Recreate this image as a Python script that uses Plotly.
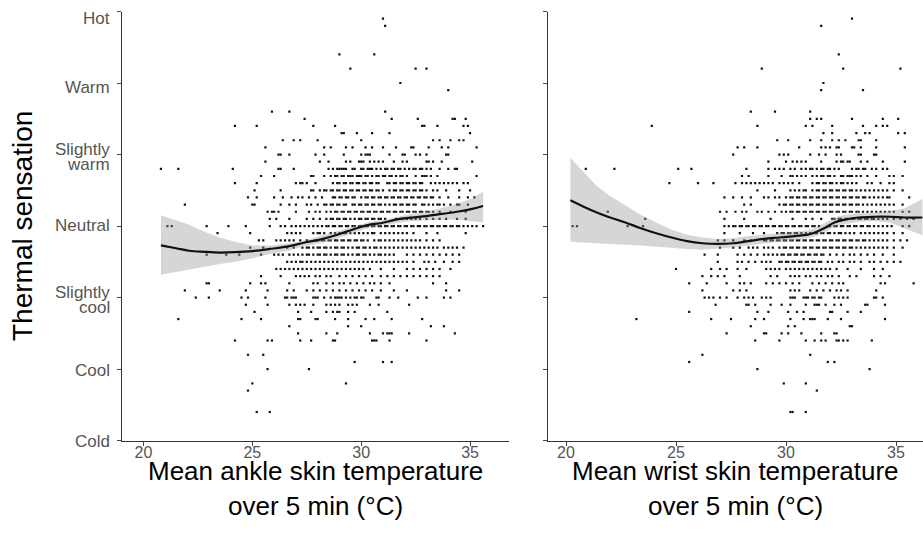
import plotly.graph_objects as go

# thermal sensation scale (-3 .. 3)
sensation_vals = [-3, -2, -1, 0, 1, 2, 3]
sensation_labels = ["Cold", "Cool", "Slightly<br>cool", "Neutral", "Slightly<br>warm", "Warm", "Hot"]
temp_ticks = [20, 25, 30, 35]

# --- ankle panel : votes per sensation level ---
ankle_levels = [2.9, 2.8, 2.4, 2.2, 2.0, 1.9, 1.6, 1.5, 1.4, 1.3, 1.2, 1.1, 1.0, 0.9, 0.8, 0.7, 0.6, 0.5, 0.4,
                0.3, 0.2, 0.1, 0.0, -0.1, -0.2, -0.3, -0.4, -0.5, -0.6, -0.7, -0.8, -0.9, -1.0, -1.1, -1.2,
                -1.3, -1.4, -1.5, -1.6, -1.8, -1.9, -2.0, -2.2, -2.3, -2.6]
ankle_temps = [
    [31.0], [31.1], [29.0, 30.6], [29.5, 32.5, 33.0], [31.8], [34.0],
    [25.9, 26.7, 31.1],
    [27.4, 31.4, 32.6, 34.2, 34.3, 34.8],
    [24.2, 25.2, 27.8, 28.8, 32.8, 32.9, 33.5, 34.7, 34.9],
    [29.1, 29.2, 29.8, 30.5, 31.3, 35.0],
    [26.4, 26.9, 27.2, 28.0, 30.0, 33.3, 33.6, 34.1, 34.5, 34.7],
    [25.6, 28.3, 28.6, 29.3, 29.6, 30.2, 30.5, 31.0, 31.6, 32.3, 32.4, 33.1, 33.7, 34.0, 35.3],
    [26.2, 26.3, 26.7, 27.9, 28.3, 29.2, 30.0, 30.2, 30.3, 30.4, 31.3, 31.9, 32.0, 32.5, 32.7, 33.0, 33.9, 34.0],
    [25.6, 28.1, 28.5, 29.3, 29.5, 29.9, 30.0, 30.1, 30.4, 30.6, 30.8, 31.0, 31.5, 31.9, 32.1, 33.0, 33.1,
     33.3, 33.7, 35.1],
    [20.8, 21.6, 24.1, 26.2, 26.3, 26.9, 28.5, 28.7, 28.9, 29.0, 29.1, 29.2, 29.3, 29.6, 29.7, 30.0, 30.1,
     30.3, 30.4, 30.5, 30.7, 30.9, 31.1, 31.2, 31.4, 31.5, 31.7, 31.8, 32.0, 32.2, 32.4, 32.5, 32.7, 32.8,
     33.0, 33.2, 33.6, 34.0, 34.3, 34.4],
    [25.4, 26.0, 27.7, 27.8, 28.3, 28.6, 28.8, 28.9, 29.1, 29.2, 29.4, 29.5, 29.6, 29.8, 29.9, 30.0, 30.2,
     30.3, 30.5, 30.7, 30.8, 31.0, 31.1, 31.3, 31.4, 31.6, 31.8, 31.9, 32.1, 32.5, 32.8, 32.9, 33.0, 33.2,
     33.5, 35.3],
    [24.2, 25.2, 27.0, 27.2, 27.3, 27.5, 27.9, 28.7, 28.9, 29.0, 29.2, 29.3, 29.5, 29.6, 29.8, 29.9, 30.1,
     30.2, 30.4, 30.5, 30.7, 30.8, 31.2, 31.3, 31.5, 31.6, 31.8, 31.9, 32.1, 32.2, 32.4, 32.5, 32.7, 32.8,
     33.2, 33.4, 33.6, 33.8, 34.0, 34.2, 34.4, 34.7, 34.9],
    [25.1, 26.3, 27.7, 27.8, 28.1, 28.3, 28.4, 28.6, 28.7, 28.9, 29.0, 29.2, 29.3, 29.5, 29.6, 29.8, 29.9,
     30.1, 30.2, 30.4, 30.5, 30.7, 30.8, 31.0, 31.3, 31.5, 31.6, 31.8, 31.9, 32.1, 32.2, 32.4, 32.5, 32.7,
     32.8, 33.0, 33.3, 33.5, 33.9, 34.5, 35.0],
    [24.8, 25.2, 26.0, 26.4, 26.8, 27.1, 27.3, 27.6, 27.9, 28.2, 28.7, 28.8, 29.0, 29.1, 29.3, 29.4, 29.6,
     29.7, 30.0, 30.2, 30.3, 30.5, 30.6, 30.8, 30.9, 31.1, 31.2, 31.4, 31.5, 31.7, 31.8, 32.0, 32.1, 32.3,
     32.4, 32.6, 32.7, 32.9, 33.0, 33.2, 33.3, 33.6, 34.0, 34.5, 34.9, 35.2],
    [21.9, 25.0, 25.1, 26.3, 26.7, 27.0, 27.5, 27.7, 28.0, 28.3, 28.4, 28.6, 28.7, 28.9, 29.0, 29.2, 29.3,
     29.6, 29.7, 29.9, 30.0, 30.2, 30.3, 30.5, 30.6, 30.8, 30.9, 31.1, 31.3, 31.5, 31.6, 31.8, 31.9, 32.1,
     32.2, 32.4, 32.5, 32.8, 32.9, 33.1, 33.3, 33.5, 33.6, 33.8, 34.1, 34.4, 34.5, 34.9],
    [25.7, 25.9, 26.0, 26.2, 27.0, 27.6, 27.9, 28.1, 28.4, 28.6, 28.8, 28.9, 29.1, 29.2, 29.4, 29.5, 29.7,
     29.8, 30.0, 30.1, 30.3, 30.4, 30.6, 30.7, 30.9, 31.0, 31.2, 31.3, 31.5, 31.6, 31.8, 31.9, 32.1, 32.2,
     32.4, 32.5, 32.7, 32.8, 33.0, 33.1, 33.3, 33.6, 34.1, 34.8],
    [25.8, 26.1, 26.7, 27.5, 27.8, 28.1, 28.4, 28.6, 28.7, 28.9, 29.0, 29.2, 29.3, 29.5, 29.7, 29.9, 30.0,
     30.2, 30.3, 30.5, 30.6, 30.8, 30.9, 31.1, 31.6, 31.8, 31.9, 32.1, 32.3, 32.5, 32.7, 33.0, 33.3, 33.6,
     33.9, 34.4, 34.8],
    [21.1, 21.3, 22.9, 23.9, 24.7, 25.8, 26.3, 26.5, 26.8, 27.0, 27.2, 27.4, 27.6, 27.8, 28.0, 28.2, 28.4,
     28.5, 28.7, 28.8, 29.0, 29.1, 29.3, 29.4, 29.6, 29.7, 29.9, 30.0, 30.2, 30.3, 30.5, 30.6, 30.8, 30.9,
     31.1, 31.2, 31.4, 31.5, 31.7, 31.8, 32.0, 32.1, 32.3, 32.4, 32.6, 32.7, 32.9, 33.0, 33.2, 33.3, 33.5,
     33.6, 33.8, 33.9, 34.1, 34.2, 34.4, 34.5, 34.7, 34.9, 35.1, 35.3, 35.6],
    [23.4, 24.9, 26.6, 26.8, 27.0, 27.2, 27.8, 28.0, 28.1, 28.3, 28.6, 28.8, 29.0, 29.2, 29.3, 29.5, 29.7,
     29.9, 30.1, 30.3, 30.5, 30.6, 30.9, 31.1, 31.3, 31.5, 31.7, 31.9, 32.1, 32.4, 33.0, 33.5, 34.8],
    [25.3, 25.5, 26.1, 26.3, 26.5, 26.7, 26.9, 27.2, 27.5, 27.9, 28.0, 28.2, 28.3, 28.5, 28.6, 28.8, 28.9,
     29.1, 29.2, 29.4, 29.5, 29.7, 29.8, 30.0, 30.1, 30.3, 30.6, 30.8, 30.9, 31.1, 31.3, 31.5, 31.7, 31.9,
     32.1, 32.3, 32.5, 32.7, 33.0, 33.3, 33.6],
    [24.9, 25.5, 26.6, 26.9, 27.3, 27.5, 27.6, 27.8, 28.0, 28.1, 28.3, 28.4, 28.6, 28.8, 28.9, 29.1, 29.2,
     29.4, 29.6, 29.8, 29.9, 30.1, 30.2, 30.4, 30.6, 30.7, 30.9, 31.1, 31.3, 31.5, 31.7, 31.9, 32.1, 32.3,
     32.5, 32.7, 32.9, 33.1, 33.3, 33.5, 33.8, 34.0, 34.2, 34.4, 34.7],
    [22.9, 23.8, 24.4, 25.4, 26.0, 26.2, 26.4, 26.7, 26.9, 27.1, 27.3, 27.5, 27.6, 27.8, 28.0, 28.1, 28.3,
     28.4, 28.6, 28.8, 28.9, 29.1, 29.2, 29.4, 29.6, 29.8, 29.9, 30.1, 30.2, 30.4, 30.6, 30.8, 30.9, 31.1,
     31.3, 31.5, 32.1, 32.4, 32.7, 33.0, 33.3, 33.6, 33.9, 34.2, 34.5],
    [26.6, 26.8, 27.0, 27.2, 27.3, 27.5, 27.7, 27.9, 28.1, 28.3, 28.5, 28.7, 28.9, 29.1, 29.3, 29.5, 29.7,
     29.9, 30.1, 30.3, 30.5, 30.7, 30.9, 31.1, 31.3, 31.5, 31.7, 31.9, 32.1, 32.4, 32.9, 33.1, 33.4, 33.8,
     34.2, 34.5],
    [26.1, 26.3, 26.5, 26.7, 26.9, 27.1, 27.3, 27.5, 27.7, 27.9, 28.1, 28.3, 28.5, 28.7, 28.9, 29.1, 29.3,
     29.5, 29.7, 29.9, 30.1, 30.4, 30.9, 31.5, 32.1, 32.4, 32.7, 33.0, 33.3, 33.6, 34.1],
    [25.4, 26.3, 27.0, 27.2, 27.4, 27.6, 27.9, 28.1, 28.4, 28.6, 29.0, 29.3, 29.6, 29.9, 30.2, 30.5, 30.9,
     31.2, 31.5, 31.8, 32.1, 32.4, 32.7, 33.0, 33.3, 33.6],
    [22.9, 23.0, 24.9, 25.4, 25.6, 26.7, 27.8, 28.0, 28.4, 28.7, 29.0, 29.2, 29.5, 29.8, 30.1, 30.4, 30.6,
     30.9, 31.3, 33.3, 33.9],
    [21.9, 23.5, 24.7, 25.7, 26.6, 26.9, 27.5, 27.8, 28.1, 28.4, 28.7, 29.0, 29.3, 29.6, 29.9, 30.2, 30.5,
     30.9, 31.5, 32.1, 33.9, 34.5],
    [22.4, 23.0, 24.5, 24.8, 25.6, 26.5, 26.6, 26.8, 26.9, 27.0, 27.8, 27.9, 28.0, 28.3, 28.6, 28.8, 28.9,
     29.0, 29.1, 29.3, 29.5, 29.7, 29.8, 30.0, 30.1, 30.7, 30.8, 31.3, 31.7, 32.6, 33.0, 33.8, 34.1],
    [24.7, 25.7, 26.7, 27.0, 27.2, 27.4, 27.8, 28.4, 28.6, 28.8, 29.0, 29.4, 29.6, 29.8, 30.4, 30.8, 32.2],
    [25.1, 27.1, 27.7, 28.4, 28.7, 28.9, 29.0, 29.4, 29.7, 31.2],
    [21.6, 24.5, 25.4, 27.1, 27.2, 27.9, 28.0, 28.8, 29.4, 30.2, 30.6, 31.4, 32.8],
    [26.7, 29.4, 30.0, 33.2, 33.8],
    [27.1, 28.4, 28.9, 30.4, 31.0, 31.2, 31.3, 31.4, 32.2, 34.3],
    [24.2, 25.7, 25.9, 27.2, 27.7, 28.7, 28.8, 30.5, 30.6, 30.7, 31.3, 33.0],
    [24.8, 25.5], [29.7, 31.0, 31.4], [25.7, 27.6], [25.0, 29.3], [24.8], [25.2, 25.8],
]

# --- wrist panel ---
wrist_levels = [2.9, 2.8, 2.4, 2.2, 2.0, 1.9, 1.6, 1.5, 1.4, 1.3, 1.2, 1.1, 1.0, 0.9, 0.8, 0.7, 0.6, 0.5, 0.4,
                0.3, 0.2, 0.1, 0.0, -0.1, -0.2, -0.3, -0.4, -0.5, -0.6, -0.7, -0.8, -0.9, -1.0, -1.1, -1.2,
                -1.3, -1.4, -1.5, -1.6, -1.8, -1.9, -2.0, -2.2, -2.3, -2.6]
wrist_temps = [
    [33.0], [31.6], [32.4], [28.9, 32.6, 35.2], [31.7], [31.6, 33.5],
    [28.4, 29.5, 31.1],
    [31.1, 31.4, 31.6, 33.0, 34.4, 35.1],
    [23.9, 28.7, 30.9, 31.2, 32.1, 33.5, 34.1, 34.4, 34.6],
    [31.7, 32.1, 33.2, 33.6, 33.8, 35.1, 35.4],
    [29.6, 30.1, 31.1, 31.6, 32.1, 32.4, 32.7, 33.3, 33.4, 34.1],
    [27.8, 28.1, 28.7, 30.6, 31.6, 31.8, 32.0, 32.3, 32.4, 33.0, 33.1, 33.4, 34.1, 35.4],
    [27.6, 29.7, 29.9, 30.1, 31.1, 31.5, 31.8, 32.3, 32.5, 33.3, 33.4, 34.0, 34.1],
    [29.2, 30.0, 30.3, 30.5, 30.7, 30.9, 31.6, 32.3, 32.5, 32.6, 32.8, 32.9, 33.4, 33.7, 34.4, 35.4],
    [20.9, 22.2, 25.1, 25.7, 28.2, 29.2, 29.5, 29.7, 29.9, 30.2, 30.4, 30.7, 30.9, 31.1, 31.2, 31.4, 31.6,
     31.7, 31.9, 32.0, 32.2, 32.4, 33.0, 33.2, 33.3, 33.5, 33.6, 33.9, 34.1, 34.4, 34.6],
    [28.0, 28.3, 29.2, 29.8, 30.2, 30.3, 30.5, 30.7, 30.9, 31.2, 31.4, 31.6, 31.7, 31.9, 32.0, 32.2, 32.5,
     32.6, 32.8, 32.9, 33.0, 33.2, 33.4, 33.7, 34.1, 34.7, 34.9, 35.3],
    [24.7, 26.0, 26.7, 27.7, 28.0, 28.2, 28.4, 28.6, 28.8, 29.0, 29.2, 29.4, 29.7, 29.9, 30.1, 30.3, 30.6,
     31.2, 31.4, 31.5, 31.7, 31.8, 32.0, 32.1, 32.3, 32.5, 32.6, 32.8, 33.0, 33.2, 33.7, 33.9, 34.3, 34.7,
     34.9],
    [28.7, 29.5, 30.2, 30.4, 30.6, 30.8, 30.9, 31.2, 31.4, 31.5, 31.7, 31.8, 32.0, 32.1, 32.3, 32.4, 32.6,
     32.7, 32.9, 33.0, 33.2, 33.4, 33.6, 33.8, 34.0, 34.2, 34.4, 34.6, 34.9, 35.3],
    [27.2, 27.6, 28.0, 28.4, 29.0, 29.2, 29.5, 29.7, 30.0, 30.2, 30.3, 30.5, 30.6, 30.8, 30.9, 31.1, 31.2,
     31.4, 31.5, 31.7, 31.8, 32.0, 32.1, 32.3, 32.4, 32.6, 32.7, 32.9, 33.0, 33.2, 33.3, 33.5, 33.6, 33.8,
     34.0, 34.2, 34.4, 34.6, 34.7, 35.6],
    [28.1, 28.4, 29.7, 29.9, 30.0, 30.2, 30.3, 30.5, 30.6, 30.8, 30.9, 31.1, 31.2, 31.4, 31.5, 31.7, 31.8,
     32.0, 32.1, 32.3, 32.4, 32.6, 32.7, 32.9, 33.0, 33.2, 33.3, 33.5, 33.7, 33.9, 34.1, 34.3, 34.5, 34.7,
     34.9, 35.3],
    [21.9, 27.0, 27.3, 27.7, 28.0, 28.2, 28.7, 28.9, 29.2, 29.5, 29.8, 30.0, 30.2, 30.3, 30.5, 30.6, 30.8,
     30.9, 31.1, 31.2, 31.4, 31.5, 31.7, 31.8, 32.0, 32.1, 32.3, 32.4, 32.6, 32.7, 32.9, 33.0, 33.2, 33.3,
     33.5, 33.7, 33.9, 34.1, 34.3, 34.5, 34.7, 34.9, 35.3, 35.6],
    [23.6, 27.2, 28.1, 29.3, 30.3, 30.9, 31.2, 31.6, 32.1, 32.2, 32.4, 32.5, 32.7, 32.8, 33.0, 33.1, 33.3,
     33.4, 33.6, 33.7, 33.9, 34.0, 34.2, 34.4, 34.6, 34.9, 35.2, 35.5, 35.8],
    [20.3, 20.5, 22.8, 23.5, 27.2, 27.4, 27.6, 27.7, 27.9, 28.0, 28.2, 28.3, 28.5, 28.6, 28.8, 28.9, 29.1,
     29.2, 29.4, 29.5, 29.7, 29.8, 30.0, 30.1, 30.3, 30.4, 30.6, 30.7, 30.9, 31.0, 31.2, 31.3, 31.5, 31.9,
     32.0, 32.2, 32.3, 32.5, 32.6, 32.8, 32.9, 33.1, 33.2, 33.4, 33.5, 33.7, 33.8, 34.0, 34.2, 34.4, 34.6,
     34.8, 35.3, 35.6],
    [27.2, 27.9, 28.5, 29.0, 29.6, 29.8, 29.9, 30.1, 30.2, 30.4, 30.5, 30.7, 30.9, 31.1, 31.3, 31.4, 31.6,
     31.7, 31.9, 32.0, 32.2, 32.4, 32.5, 32.7, 32.9, 33.1, 33.4, 33.6, 33.8, 34.0, 34.2, 34.4, 34.6, 34.9,
     35.3],
    [26.9, 27.2, 27.6, 28.1, 28.4, 29.0, 29.1, 29.3, 29.4, 29.6, 29.7, 29.9, 30.0, 30.2, 30.3, 30.5, 30.6,
     30.8, 30.9, 31.1, 31.2, 31.4, 31.5, 31.7, 31.8, 32.0, 32.1, 32.3, 32.4, 32.6, 32.7, 32.9, 33.0, 33.2,
     33.3, 33.5, 33.6, 33.8, 34.0, 34.2, 34.4, 34.6, 34.9, 35.2, 35.5],
    [27.0, 27.6, 27.9, 28.3, 28.5, 28.7, 29.0, 29.2, 29.4, 29.7, 29.9, 30.0, 30.2, 30.3, 30.5, 30.6, 30.8,
     30.9, 31.1, 31.2, 31.4, 31.5, 31.7, 31.8, 32.0, 32.1, 32.3, 32.4, 32.6, 32.7, 32.9, 33.0, 33.2, 33.4,
     33.6, 33.8, 34.0, 34.2, 34.4, 34.6, 34.9, 35.3],
    [26.3, 26.9, 27.8, 28.1, 28.4, 28.7, 29.0, 29.2, 29.4, 29.6, 29.8, 29.9, 30.1, 30.2, 30.4, 30.5, 30.7,
     30.8, 31.0, 31.1, 31.3, 31.4, 31.6, 31.7, 32.0, 32.3, 32.6, 32.9, 33.1, 33.4, 33.7, 34.0, 34.4, 34.9],
    [26.9, 27.8, 28.0, 28.3, 28.6, 28.9, 29.1, 29.3, 29.7, 29.8, 30.0, 30.1, 30.3, 30.4, 30.6, 30.7, 30.9,
     31.0, 31.2, 31.3, 31.5, 31.6, 31.9, 32.1, 32.4, 32.6, 32.9, 33.1, 33.4, 33.8, 34.0, 34.3, 34.6, 34.9,
     35.2],
    [25.0, 26.6, 27.0, 27.3, 27.8, 28.2, 29.1, 29.3, 29.5, 29.7, 30.0, 30.2, 30.4, 30.6, 30.8, 31.0, 31.2,
     31.4, 31.6, 31.8, 32.0, 32.3, 32.8, 33.4, 34.0, 34.4],
    [26.2, 26.6, 26.9, 27.2, 27.9, 29.3, 29.6, 30.2, 30.4, 30.6, 30.9, 31.1, 31.4, 31.6, 31.9, 32.1, 32.4,
     32.9, 33.2, 34.0, 34.3, 34.7],
    [25.6, 26.4, 27.3, 27.9, 28.1, 28.4, 29.1, 29.4, 29.7, 30.0, 30.3, 30.6, 31.2, 31.5, 31.8, 32.1, 32.4,
     32.6, 34.3, 34.5, 35.8],
    [26.2, 27.6, 27.9, 28.2, 30.2, 30.4, 30.6, 31.1, 31.4, 31.7, 32.0, 32.3, 32.5, 32.8, 34.1],
    [26.3, 26.5, 26.7, 27.0, 27.3, 27.8, 28.1, 28.3, 28.5, 28.9, 29.1, 29.3, 30.2, 30.3, 30.4, 30.8, 30.9,
     31.0, 31.2, 31.3, 31.5, 31.6, 32.2, 32.4, 32.6, 32.8, 34.0, 34.1, 34.4],
    [26.8, 28.2, 28.3, 28.6, 29.3, 29.8, 30.2, 30.9, 31.3, 31.4, 31.5, 31.8, 32.2, 32.5, 33.6, 33.7, 34.5],
    [25.6, 28.7, 29.2, 30.1, 30.5, 30.8, 32.0, 32.1, 32.8, 33.4],
    [23.2, 26.6, 27.5, 28.6, 29.0, 30.2, 30.8, 31.1, 31.2, 31.3, 31.9, 32.5, 34.5],
    [28.4, 30.1, 30.4, 32.9, 33.0],
    [27.3, 29.0, 29.1, 29.8, 30.1, 30.7, 31.6, 32.2, 32.3],
    [28.6, 29.7, 30.9, 31.3, 31.6, 31.8, 32.3, 32.4, 32.6, 32.8, 33.9],
    [26.2, 31.1], [25.6, 31.9, 32.2], [28.7, 33.8], [29.9, 30.9], [31.4], [30.2, 30.3, 30.9],
]

# loess fits with 95% band
ankle_fit_x = [20.8, 21.5, 22.1, 22.8, 23.5, 24.2, 25.0, 25.8, 26.7, 27.4, 28.1, 28.6, 29.0, 29.4, 29.9,
               30.4, 30.9, 31.6, 32.3, 33.0, 33.7, 34.4, 35.1, 35.6]
ankle_fit_y = [-0.27, -0.31, -0.345, -0.36, -0.37, -0.365, -0.35, -0.32, -0.28, -0.23, -0.19, -0.15, -0.11,
               -0.07, -0.02, 0.02, 0.04, 0.09, 0.12, 0.14, 0.17, 0.20, 0.24, 0.28]
ankle_fit_lo = [-0.68, -0.64, -0.61, -0.57, -0.53, -0.50, -0.45, -0.39, -0.34, -0.28, -0.24, -0.20, -0.17,
                -0.12, -0.07, -0.02, 0.00, 0.04, 0.07, 0.08, 0.09, 0.09, 0.07, 0.05]
ankle_fit_hi = [0.15, 0.08, 0.02, -0.08, -0.16, -0.22, -0.27, -0.27, -0.24, -0.20, -0.14, -0.10, -0.06,
                -0.03, 0.02, 0.06, 0.08, 0.13, 0.17, 0.20, 0.25, 0.31, 0.39, 0.48]

wrist_fit_x = [20.2, 20.8, 21.4, 22.0, 22.7, 23.4, 24.1, 24.8, 25.5, 26.2, 26.9, 27.6, 28.3, 29.0, 29.7,
               30.4, 31.0, 31.4, 31.8, 32.2, 32.7, 33.3, 34.0, 34.7, 35.4, 36.2]
wrist_fit_y = [0.36, 0.27, 0.19, 0.12, 0.05, -0.03, -0.10, -0.16, -0.21, -0.24, -0.25, -0.24, -0.21, -0.18,
               -0.16, -0.14, -0.12, -0.08, -0.02, 0.05, 0.09, 0.12, 0.13, 0.13, 0.12, 0.12]
wrist_fit_lo = [-0.22, -0.23, -0.24, -0.25, -0.26, -0.27, -0.28, -0.30, -0.32, -0.33, -0.32, -0.30, -0.27,
                -0.24, -0.22, -0.20, -0.17, -0.14, -0.08, -0.01, 0.03, 0.06, 0.07, 0.05, -0.03, -0.13]
wrist_fit_hi = [0.95, 0.75, 0.56, 0.42, 0.29, 0.16, 0.05, -0.05, -0.12, -0.16, -0.18, -0.17, -0.14, -0.12,
                -0.10, -0.08, -0.06, -0.02, 0.05, 0.12, 0.16, 0.18, 0.19, 0.21, 0.25, 0.38]

W, H = 923, 533
FONT = "Arial, Liberation Sans, sans-serif"
LABEL_GREY = "#555555"

fig = go.Figure()


def add_panel(levels, temps, fx, fy, flo, fhi, xa, ya):
    xs, ys = [], []
    for lev, row in zip(levels, temps):
        xs += row
        ys += [lev] * len(row)
    fig.add_trace(go.Scatter(x=xs, y=ys, mode="markers", xaxis=xa, yaxis=ya,
                             marker=dict(symbol="square", size=2.2, color="#111111", line=dict(width=0)),
                             showlegend=False, hoverinfo="skip"))
    # ribbon
    fig.add_trace(go.Scatter(x=fx + fx[::-1], y=fhi + flo[::-1], xaxis=xa, yaxis=ya,
                             fill="toself", fillcolor="rgba(153,153,153,0.4)", line=dict(width=0),
                             mode="lines", showlegend=False, hoverinfo="skip"))
    fig.add_trace(go.Scatter(x=fx, y=fy, mode="lines", xaxis=xa, yaxis=ya,
                             line=dict(color="#111111", width=2.2, shape="spline"),
                             showlegend=False))


add_panel(ankle_levels, ankle_temps, ankle_fit_x, ankle_fit_y, ankle_fit_lo, ankle_fit_hi, "x", "y")
add_panel(wrist_levels, wrist_temps, wrist_fit_x, wrist_fit_y, wrist_fit_lo, wrist_fit_hi, "x2", "y2")

x_common = dict(tickvals=temp_ticks, ticks="outside", ticklen=4, tickwidth=1, tickcolor="#444444",
                showline=True, linecolor="#333333", linewidth=1, showgrid=False, zeroline=False,
                automargin=False, ticklabelstandoff=-7,
                tickfont=dict(family=FONT, size=16, color=LABEL_GREY))
y_common = dict(range=[-3.005, 3.0], tickvals=sensation_vals, ticks="outside", ticklen=4, tickwidth=1,
                tickcolor="#444444", showline=True, linecolor="#333333", linewidth=1, showgrid=False,
                zeroline=False, automargin=False, showticklabels=False, domain=[1 - 441 / H, 1 - 11.5 / H])

fig.update_layout(
    width=W, height=H,
    margin=dict(l=0, r=0, t=0, b=0),
    paper_bgcolor="white", plot_bgcolor="white",
    xaxis=dict(domain=[122 / W, 509 / W], range=[19.012, 36.789], anchor="y", **x_common),
    xaxis2=dict(domain=[548 / W, 1.0], range=[19.182, 36.227], anchor="y2", **x_common),
    yaxis=dict(anchor="x", **y_common),
    yaxis2=dict(anchor="x2", **y_common),
)

# y tick labels written as text next to the ticks (tight two-line spacing like the original)
label_nudge = {"Hot": -7, "Warm": -4, "Neutral": 1, "Cool": -1, "Cold": -1}
for val, lab in zip(sensation_vals, sensation_labels):
    lines = lab.split("<br>")
    shifts = [5, -9.5] if len(lines) == 2 else [label_nudge.get(lab, 0)]
    for line, dy in zip(lines, shifts):
        fig.add_annotation(text=line, x=112 / W, y=val, xref="paper", yref="y", yshift=dy,
                           showarrow=False, xanchor="right", yanchor="middle",
                           font=dict(family=FONT, size=17, color=LABEL_GREY))

# axis titles
title_font = dict(family=FONT, size=26, color="black")
for cx, line1 in [(315, "Mean ankle skin temperature"), (735, "Mean wrist skin temperature")]:
    fig.add_annotation(text=line1, x=cx / W, y=1 - 471 / H, xref="paper", yref="paper",
                       showarrow=False, xanchor="center", yanchor="middle", font=title_font)
    fig.add_annotation(text="over 5 min (°C)", x=cx / W, y=1 - 506 / H, xref="paper", yref="paper",
                       showarrow=False, xanchor="center", yanchor="middle", font=title_font)

fig.add_annotation(text="Thermal sensation", x=23 / W, y=1 - 226 / H, xref="paper", yref="paper",
                   showarrow=False, textangle=-90, xanchor="center", yanchor="middle",
                   font=dict(family=FONT, size=28, color="black"))

# drop the default page margin so the figure sits at the window's corner
fig.write_html("out.html", config={"displayModeBar": False},
               post_script="document.body.style.margin='0';")
